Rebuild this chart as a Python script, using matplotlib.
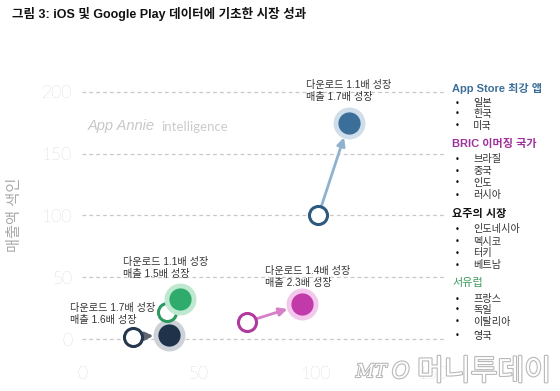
import matplotlib
matplotlib.use('Agg')
import matplotlib.pyplot as plt
import matplotlib.patheffects as pe

plt.rcParams['font.family'] = ['Liberation Sans', 'Noto Sans CJK KR', 'DejaVu Sans']

# data (download index, revenue index)
groups = ['App Store 최강 앱', 'BRIC 이머징 국가', '요주의 시장', '서유럽']
x_start = [101, 70.5, 22, 36.5]
y_start = [100, 14, 2, 22]
x_end = [114, 94, 37, 42]
y_end = [175, 28, 3, 32]
growth_labels = ['다운로드 1.1배 성장\n매출 1.7배 성장',
                 '다운로드 1.4배 성장\n매출 2.3배 성장',
                 '다운로드 1.7배 성장\n매출 1.6배 성장',
                 '다운로드 1.1배 성장\n매출 1.5배 성장']
members = [['일본', '한국', '미국'],
           ['브라질', '중국', '인도', '러시아'],
           ['인도네시아', '멕시코', '터키', '베트남'],
           ['프랑스', '독일', '이탈리아', '영국']]
x_ticks = [0, 50, 100, 150]
y_ticks = [0, 50, 100, 150, 200]

# styles
main_c = ['#3b6f99', '#c23aa9', '#1f3249', '#2fab6c']
edge_c = ['#2e5a80', '#b03a9e', '#25384e', '#2e9a62']
halo_c = ['#cfdeea', '#f4c8ec', '#cdd1d8', '#bfe8d1']
arrow_c = ['#8fb2cf', '#d680c8', '#5d6873', '#2e9a62']
head_c = ['#3b6f99', '#a0309a', '#111111', '#3b9a5c']
head_bold = [True, True, True, False]
label_pos = [(95.7, 200.8), (78.2, 50.5), (-5.1, 20.2), (17.5, 57.5)]

W, H = 560, 391
fig = plt.figure(figsize=(W / 100, H / 100), dpi=100)

def fx(px):
    return px / W

def fy(py):
    return 1 - py / H

ax = fig.add_axes([fx(82), fy(351), (444 - 82) / W, (351 - 80) / H])
ax.set_xlim(0, 154.7)
ax.set_ylim(-9.7, 209.7)
for s in ax.spines.values():
    s.set_visible(False)
ax.set_xticks(x_ticks)
ax.set_yticks(y_ticks)
ax.tick_params(length=0, labelsize=12.5, labelcolor='#b4b4b4')
ax.tick_params(axis='x', pad=11)
ax.tick_params(axis='y', pad=7)
for lab in ax.get_xticklabels() + ax.get_yticklabels():
    lab.set_family(['Lato', 'DejaVu Sans'])
    lab.set_fontweight('light')
for yv in y_ticks:
    ax.axhline(yv, color='#c8c8c8', lw=0.9, ls=(0, (3, 2.5)), zorder=0)

for i in range(len(groups)):
    ax.annotate('', xy=(x_end[i], y_end[i]), xytext=(x_start[i], y_start[i]),
                arrowprops=dict(arrowstyle='-|>', color=arrow_c[i], lw=2.0,
                                mutation_scale=12, shrinkA=0, shrinkB=11),
                zorder=2)
    ax.plot(x_start[i], y_start[i], 'o', ms=13, mfc='white', mec=edge_c[i],
            mew=2.2, zorder=3)
    ax.plot(x_end[i], y_end[i], 'o', ms=23, color=halo_c[i], mec='none', zorder=3)
    ax.plot(x_end[i], y_end[i], 'o', ms=16, color=main_c[i], mec='none', zorder=4)
    ax.text(label_pos[i][0], label_pos[i][1], growth_labels[i], fontsize=7.3,
            color='#333333', ha='left', va='center', linespacing=1.25, zorder=5)

# title
fig.text(fx(12), fy(14), '그림 3: iOS 및 Google Play 데이터에 기초한 시장 성과',
         fontsize=9, fontweight='bold', color='#111111', ha='left', va='center')

# y label
fig.text(fx(15), fy(215), '매출액 색인', rotation=90, fontsize=11,
         color='#aaaaaa', ha='center', va='center')

# App Annie watermark
fig.text(fx(88), fy(126), 'App Annie', fontsize=10.5, style='italic',
         color='#c8c8c8', ha='left', va='center')
fig.text(fx(161), fy(127), 'intelligence', fontsize=9.5, color='#cccccc',
         ha='left', va='center', family=['Lato', 'DejaVu Sans'])

# side legend
head_y = [88, 144, 214, 283]
item_y = [[103, 114, 126], [159, 171, 183, 195], [229, 242, 253, 265],
          [299, 310, 322, 336]]
for i in range(len(groups)):
    fig.text(fx(452), fy(head_y[i]), groups[i], fontsize=8,
             fontweight='bold' if head_bold[i] else 'normal',
             color=head_c[i], ha='left', va='center')
    for name, yy in zip(members[i], item_y[i]):
        fig.text(fx(457), fy(yy), '•', fontsize=6, color='#111111',
                 ha='center', va='center', family=['DejaVu Sans'])
        fig.text(fx(473), fy(yy), name, fontsize=7.3, color='#333333',
                 ha='left', va='center')

# news watermark at the bottom
stroke = [pe.withStroke(linewidth=1.6, foreground='#b8b8b8')]
fig.text(fx(356), fy(372), 'MT', fontsize=13, style='italic', color='white',
         ha='left', va='center', path_effects=stroke, family=['DejaVu Serif'])
fig.text(fx(392), fy(372), 'O', fontsize=16, style='italic', color='white',
         ha='left', va='center', path_effects=stroke, family=['DejaVu Sans'])
fig.text(fx(417), fy(372), '머니투데이', fontsize=21, color='white',
         ha='left', va='center', path_effects=stroke)

fig.savefig('out.png', dpi=100)
